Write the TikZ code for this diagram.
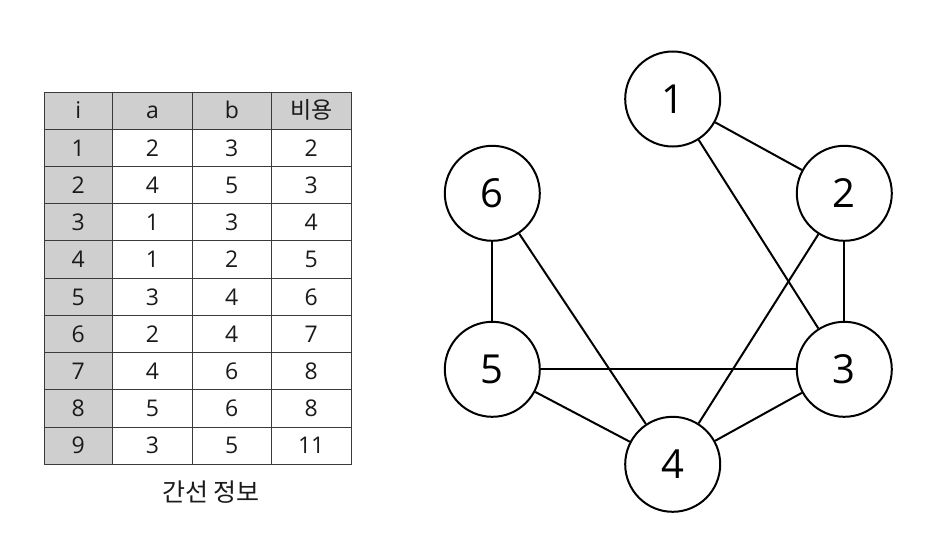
\documentclass[tikz,border=0pt]{standalone}
\usepackage{fontspec}
\setmainfont{Open Sans}
\newfontfamily\kor{Noto Sans CJK KR}
\definecolor{hdr}{HTML}{CFCFCF}
\definecolor{gridc}{HTML}{3A3A3A}
\definecolor{txt}{HTML}{1A1A1A}
\begin{document}
\begin{tikzpicture}[x=1pt,y=-1pt,
  cell/.style={inner sep=0pt, text=txt, text height=16.5pt, text depth=0pt, font=\fontsize{23}{27}\selectfont},
  vtx/.style={circle, draw, line width=2pt, minimum size=95pt, inner sep=0pt, font=\fontsize{40}{44}\selectfont},
  edge/.style={line width=2pt}]
\useasboundingbox (0,0) rectangle (936,546);
% table
\def\tT{92}\def\tB{464.3}\def\tL{44}\def\tR{351}
\fill[hdr] (\tL,\tT) rectangle (\tR,129.23);
\fill[hdr] (\tL,\tT) rectangle (112.7,\tB);
\foreach \k in {1,...,9} \draw[gridc, line width=0.9pt] (\tL,{\tT+\k*37.23}) -- (\tR,{\tT+\k*37.23});
\foreach \xx in {112.7,192.3,271.3} \draw[gridc, line width=0.9pt] (\xx,\tT) -- (\xx,\tB);
\draw[gridc, line width=1pt] (\tL,\tT) rectangle (\tR,\tB);
\foreach \r/\a/\b/\c/\d in {0/i/a/b/{\kor 비용},1/1/2/3/2,2/2/4/5/3,3/3/1/3/4,4/4/1/2/5,5/5/3/4/6,6/6/2/4/7,7/7/4/6/8,8/8/5/6/8,9/9/3/5/11} {
  \node[cell] (t\r-1) at (78.3,{\tT+(\r+0.5)*37.23}) {\a};
  \node[cell] (t\r-2) at (152.5,{\tT+(\r+0.5)*37.23}) {\b};
  \node[cell] (t\r-3) at (231.8,{\tT+(\r+0.5)*37.23}) {\c};
  \node[cell] (t\r-4) at (311.2,{\tT+(\r+0.5)*37.23}) {\d};
}
\node[inner sep=0pt, text=txt, font=\kor\fontsize{25}{29}\selectfont] (cap) at (211,492) {간선 정보};
% graph
\node[vtx] (n1) at (672.7,99) {1};
\node[vtx] (n2) at (844.3,193.3) {2};
\node[vtx] (n6) at (492.3,193.3) {6};
\node[vtx] (n5) at (492.3,369.3) {5};
\node[vtx] (n3) at (844.3,369.3) {3};
\node[vtx] (n4) at (672.7,464.3) {4};
\draw[edge] (n1) -- (n2);
\draw[edge] (n1) -- (n3);
\draw[edge] (n2) -- (n3);
\draw[edge] (n2) -- (n4);
\draw[edge] (n6) -- (n5);
\draw[edge] (n6) -- (n4);
\draw[edge] (n5) -- (n3);
\draw[edge] (n5) -- (n4);
\draw[edge] (n3) -- (n4);
\end{tikzpicture}
\end{document}
